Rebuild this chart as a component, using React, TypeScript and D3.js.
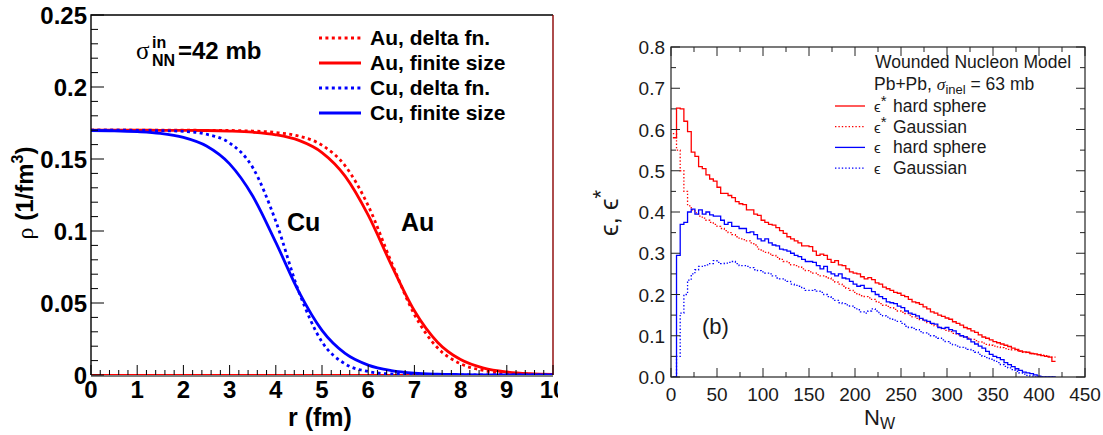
import React, { useEffect, useRef } from "react";
import * as d3 from "d3";

// ---- left panel: nuclear density profiles ----
const rGrid = [0, 0.5, 1, 1.5, 2, 2.5, 3, 3.5, 4, 4.5, 5, 5.5, 6, 6.5, 7, 7.5, 8, 8.5, 9, 9.5, 10];
const auDelta = [0.17, 0.17, 0.17, 0.17, 0.17, 0.1699, 0.1698, 0.1694, 0.1684, 0.1659, 0.1596, 0.1453, 0.1176, 0.0785, 0.042, 0.0189, 0.0078, 0.0031, 0.0012, 0.0005, 0.0002];
const auFinite = [0.17, 0.17, 0.17, 0.1699, 0.1699, 0.1698, 0.1694, 0.1686, 0.1668, 0.1629, 0.1545, 0.1381, 0.111, 0.0765, 0.0446, 0.0228, 0.0107, 0.0048, 0.0021, 0.0009, 0.0004];
const cuDelta = [0.17, 0.17, 0.1699, 0.1697, 0.1692, 0.1672, 0.1612, 0.1441, 0.1068, 0.0577, 0.023, 0.0077, 0.0024, 0.0007, 0.0002, 0.0001, 0, 0, 0, 0, 0];
const cuFinite = [0.1698, 0.1696, 0.169, 0.1678, 0.165, 0.159, 0.1466, 0.1243, 0.0921, 0.0577, 0.031, 0.015, 0.0069, 0.0031, 0.0013, 0.0006, 0.0003, 0.0001, 0.0001, 0, 0];

const rTicks = [0, 1, 2, 3, 4, 5, 6, 7, 8, 9, 10];
const rhoTicks = [0, 0.05, 0.1, 0.15, 0.2, 0.25];
const rhoTickLabels = ["0", "0.05", "0.1", "0.15", "0.2", "0.25"];

const leftLegend = [
  { label: "Au, delta fn.", color: "#ff0000", dotted: true },
  { label: "Au, finite size", color: "#ff0000", dotted: false },
  { label: "Cu, delta fn.", color: "#0000ff", dotted: true },
  { label: "Cu, finite size", color: "#0000ff", dotted: false },
];

// ---- right panel: eccentricity histograms, bins of 4 starting at N_W = 2 ----
const binStart = 2;
const binWidth = 4;
const epsStarHard = [
  0.58, 0.652, 0.65, 0.62, 0.595, 0.545, 0.535, 0.51, 0.505, 0.49, 0.48, 0.475, 0.46, 0.445, 0.445, 0.44,
  0.435, 0.425, 0.42, 0.418, 0.405, 0.405, 0.395, 0.392, 0.38, 0.375, 0.37, 0.368, 0.362, 0.355, 0.348, 0.34,
  0.335, 0.33, 0.325, 0.318, 0.318, 0.316, 0.305, 0.295, 0.298, 0.295, 0.285, 0.278, 0.282, 0.272, 0.27, 0.262,
  0.255, 0.252, 0.25, 0.243, 0.238, 0.241, 0.236, 0.228, 0.225, 0.218, 0.214, 0.21, 0.205, 0.203, 0.198, 0.195,
  0.188, 0.182, 0.18, 0.176, 0.17, 0.165, 0.158, 0.155, 0.15, 0.147, 0.143, 0.14, 0.134, 0.13, 0.126, 0.12,
  0.117, 0.112, 0.108, 0.102, 0.097, 0.094, 0.09, 0.086, 0.083, 0.08, 0.077, 0.074, 0.07, 0.067, 0.063, 0.061,
  0.06, 0.057, 0.056, 0.054, 0.052, 0.05, 0.048, 0.038,
];
const epsStarGauss = [
  0.59, 0.55, 0.5, 0.45, 0.415, 0.405, 0.398, 0.39, 0.385, 0.38, 0.375, 0.37, 0.365, 0.36, 0.355, 0.35,
  0.345, 0.34, 0.335, 0.333, 0.33, 0.325, 0.32, 0.31, 0.305, 0.302, 0.298, 0.295, 0.29, 0.285, 0.28, 0.277,
  0.272, 0.27, 0.267, 0.262, 0.258, 0.255, 0.252, 0.248, 0.245, 0.243, 0.24, 0.235, 0.23, 0.225, 0.22, 0.215,
  0.21, 0.205, 0.2, 0.197, 0.195, 0.192, 0.188, 0.183, 0.178, 0.174, 0.171, 0.168, 0.164, 0.16, 0.157, 0.154,
  0.15, 0.146, 0.142, 0.139, 0.136, 0.132, 0.128, 0.124, 0.121, 0.117, 0.113, 0.11, 0.106, 0.103, 0.1, 0.097,
  0.094, 0.091, 0.088, 0.085, 0.082, 0.079, 0.077, 0.075, 0.073, 0.071, 0.069, 0.067, 0.066, 0.064, 0.062, 0.06,
  0.059, 0.057, 0.056, 0.055, 0.053, 0.052, 0.05, 0.048,
];
const epsHard = [
  0, 0.295, 0.37, 0.375, 0.4, 0.407, 0.395, 0.405, 0.395, 0.4, 0.393, 0.39, 0.39, 0.38, 0.37, 0.375,
  0.365, 0.365, 0.36, 0.36, 0.35, 0.352, 0.345, 0.335, 0.33, 0.335, 0.325, 0.32, 0.318, 0.31, 0.308, 0.305,
  0.3, 0.295, 0.292, 0.285, 0.28, 0.28, 0.278, 0.27, 0.262, 0.268, 0.255, 0.25, 0.245, 0.25, 0.24, 0.238,
  0.232, 0.225, 0.22, 0.222, 0.215, 0.215, 0.207, 0.2, 0.195, 0.19, 0.182, 0.18, 0.178, 0.172, 0.168, 0.16,
  0.155, 0.152, 0.148, 0.142, 0.138, 0.135, 0.13, 0.128, 0.12, 0.118, 0.12, 0.115, 0.112, 0.105, 0.1, 0.097,
  0.092, 0.085, 0.08, 0.075, 0.07, 0.062, 0.055, 0.05, 0.047, 0.042, 0.035, 0.03, 0.025, 0.02, 0.016, 0.012,
  0.01, 0.008, 0.005, 0.002, 0, 0, 0, 0,
];
const epsGauss = [
  0, 0.05, 0.155, 0.2, 0.235, 0.25, 0.26, 0.268, 0.27, 0.272, 0.275, 0.282, 0.278, 0.275, 0.276, 0.278,
  0.28, 0.275, 0.27, 0.27, 0.268, 0.265, 0.26, 0.258, 0.255, 0.252, 0.25, 0.245, 0.24, 0.238, 0.235, 0.232,
  0.225, 0.222, 0.22, 0.215, 0.21, 0.21, 0.212, 0.208, 0.205, 0.2, 0.195, 0.19, 0.186, 0.18, 0.178, 0.175,
  0.172, 0.168, 0.163, 0.158, 0.155, 0.16, 0.165, 0.16, 0.152, 0.148, 0.145, 0.14, 0.138, 0.135, 0.13, 0.123,
  0.12, 0.118, 0.115, 0.11, 0.107, 0.104, 0.1, 0.097, 0.094, 0.09, 0.086, 0.082, 0.078, 0.075, 0.072, 0.07,
  0.067, 0.064, 0.06, 0.055, 0.05, 0.047, 0.043, 0.04, 0.035, 0.03, 0.026, 0.022, 0.018, 0.014, 0.01, 0.007,
  0.004, 0.002, 0, 0, 0, 0, 0, 0,
];

const nTicks = [0, 50, 100, 150, 200, 250, 300, 350, 400, 450];
const epsTicks = [0, 0.1, 0.2, 0.3, 0.4, 0.5, 0.6, 0.7, 0.8];

const rightLegend = [
  { sym: "ϵ", star: true, label: "hard sphere", color: "#ff0000", dotted: false },
  { sym: "ϵ", star: true, label: "Gaussian", color: "#ff0000", dotted: true },
  { sym: "ϵ", star: false, label: "hard sphere", color: "#0000ff", dotted: false },
  { sym: "ϵ", star: false, label: "Gaussian", color: "#0000ff", dotted: true },
];

const BOLD = "'Liberation Sans', Arial, Helvetica, sans-serif";

export default function App() {
  const svgRef = useRef<SVGSVGElement>(null);

  useEffect(() => {
    const svg = d3.select(svgRef.current);
    svg.selectAll("*").remove();

    // ================= LEFT PANEL =================
    const xL = d3.scaleLinear().domain([0, 10]).range([91, 553]);
    const yL = d3.scaleLinear().domain([0, 0.25]).range([375, 15]);

    svg.append("clipPath").attr("id", "leftCut")
      .append("rect").attr("x", 0).attr("y", 0).attr("width", 558).attr("height", 435);
    svg.append("clipPath").attr("id", "leftFrame")
      .append("rect").attr("x", xL(0)).attr("y", yL(0.25)).attr("width", xL(10) - xL(0)).attr("height", yL(0) - yL(0.25));

    const L = svg.append("g").attr("clip-path", "url(#leftCut)").style("font-family", BOLD);

    // curves
    const curves = [
      { v: auDelta, color: "#ff0000", dotted: true },
      { v: auFinite, color: "#ff0000", dotted: false },
      { v: cuDelta, color: "#0000ff", dotted: true },
      { v: cuFinite, color: "#0000ff", dotted: false },
    ];
    const lineL = d3.line<number>()
      .x((_, i) => xL(rGrid[i]))
      .y((d) => yL(d))
      .curve(d3.curveMonotoneX);

    const plot = L.append("g").attr("clip-path", "url(#leftFrame)");
    plot.append("line")
      .attr("x1", xL(0)).attr("x2", xL(10)).attr("y1", yL(0)).attr("y2", yL(0))
      .attr("stroke", "#ff0000").attr("stroke-width", 2);
    curves.forEach((c) => {
      plot.append("path")
        .attr("d", lineL(c.v))
        .attr("fill", "none")
        .attr("stroke", c.color)
        .attr("stroke-width", 2.8)
        .attr("stroke-dasharray", c.dotted ? "3,3.4" : null);
    });

    // frame
    L.append("path")
      .attr("d", `M${xL(0)},${yL(0)}V${yL(0.25)}H${xL(10)}`)
      .attr("fill", "none").attr("stroke", "#000").attr("stroke-width", 1.4);
    L.append("line")
      .attr("x1", xL(10)).attr("x2", xL(10)).attr("y1", yL(0.25)).attr("y2", yL(0))
      .attr("stroke", "#8b0000").attr("stroke-width", 1.4);
    L.append("line")
      .attr("x1", xL(0)).attr("x2", xL(10)).attr("y1", yL(0) + 1).attr("y2", yL(0) + 1)
      .attr("stroke", "#000").attr("stroke-width", 1);

    // y ticks
    d3.range(0, 26).forEach((k) => {
      const v = k * 0.01;
      const major = k % 5 === 0;
      L.append("line")
        .attr("x1", xL(0)).attr("x2", xL(0) + (major ? 13 : 7))
        .attr("y1", yL(v)).attr("y2", yL(v))
        .attr("stroke", "#000").attr("stroke-width", 1);
    });
    rhoTicks.forEach((v, i) => {
      L.append("text")
        .attr("x", xL(0) - 4).attr("y", yL(v) + 9)
        .attr("text-anchor", "end")
        .style("font-size", "24px").style("font-weight", "bold")
        .text(rhoTickLabels[i]);
    });

    // x ticks
    d3.range(0, 51).forEach((k) => {
      const v = k * 0.2;
      const major = k % 5 === 0;
      L.append("line")
        .attr("x1", xL(v)).attr("x2", xL(v))
        .attr("y1", yL(0)).attr("y2", yL(0) - (major ? 10 : 5))
        .attr("stroke", "#000").attr("stroke-width", 1);
    });
    rTicks.forEach((v) => {
      L.append("text")
        .attr("x", xL(v)).attr("y", 398)
        .attr("text-anchor", "middle")
        .style("font-size", "24px").style("font-weight", "bold")
        .text(String(v));
    });

    // axis titles
    L.append("text")
      .attr("x", 320).attr("y", 426)
      .attr("text-anchor", "middle")
      .style("font-size", "25px").style("font-weight", "bold")
      .text("r (fm)");

    const yt = L.append("text")
      .attr("transform", "translate(33,193) rotate(-90)")
      .attr("text-anchor", "middle")
      .style("font-size", "24px").style("font-weight", "bold");
    yt.append("tspan").style("font-family", "'Liberation Serif', serif").style("font-weight", "normal").text("ρ");
    yt.append("tspan").text(" (1/fm");
    yt.append("tspan").attr("dy", -10).style("font-size", "16px").text("3");
    yt.append("tspan").attr("dy", 10).text(")");

    // sigma annotation
    L.append("text").attr("x", 136).attr("y", 59)
      .style("font-family", "'Liberation Serif', serif").style("font-size", "25px").text("σ");
    L.append("text").attr("x", 152).attr("y", 48)
      .style("font-size", "16px").style("font-weight", "bold").text("in");
    L.append("text").attr("x", 152).attr("y", 66)
      .style("font-size", "16px").style("font-weight", "bold").text("NN");
    L.append("text").attr("x", 178).attr("y", 59)
      .style("font-size", "24px").style("font-weight", "bold").text("=42 mb");

    L.append("text").attr("x", 287).attr("y", 231)
      .style("font-size", "25px").style("font-weight", "bold").text("Cu");
    L.append("text").attr("x", 401).attr("y", 231)
      .style("font-size", "25px").style("font-weight", "bold").text("Au");

    // legend
    leftLegend.forEach((d, i) => {
      const y = 38 + i * 25;
      L.append("line")
        .attr("x1", 319).attr("x2", 361).attr("y1", y).attr("y2", y)
        .attr("stroke", d.color).attr("stroke-width", 2.8)
        .attr("stroke-dasharray", d.dotted ? "3,3.4" : null);
      L.append("text")
        .attr("x", 370).attr("y", y + 7)
        .style("font-size", "21px").style("font-weight", "bold")
        .text(d.label);
    });

    // ================= RIGHT PANEL =================
    const xR = d3.scaleLinear().domain([0, 450]).range([671, 1085]);
    const yR = d3.scaleLinear().domain([0, 0.8]).range([377, 47]);
    const R = svg.append("g").style("font-family", BOLD).style("fill", "#1a1a1a");

    svg.append("clipPath").attr("id", "rightFrame")
      .append("rect").attr("x", xR(0)).attr("y", yR(0.8)).attr("width", xR(450) - xR(0)).attr("height", yR(0) - yR(0.8));

    const hists = [
      { v: epsStarHard, color: "#ff0000", dotted: false },
      { v: epsStarGauss, color: "#ff0000", dotted: true },
      { v: epsHard, color: "#0000ff", dotted: false },
      { v: epsGauss, color: "#0000ff", dotted: true },
    ];
    const lineR = d3.line<number>()
      .x((_, i) => xR(binStart + i * binWidth))
      .y((d) => yR(d))
      .curve(d3.curveStepAfter);
    const hg = R.append("g").attr("clip-path", "url(#rightFrame)");
    hists.forEach((h) => {
      const pts = [...h.v, h.v[h.v.length - 1]];
      hg.append("path")
        .attr("d", lineR(pts))
        .attr("fill", "none")
        .attr("stroke", h.color)
        .attr("stroke-width", 1.3)
        .attr("stroke-dasharray", h.dotted ? "1.4,2" : null);
    });

    // frame
    R.append("rect")
      .attr("x", xR(0)).attr("y", yR(0.8))
      .attr("width", xR(450) - xR(0)).attr("height", yR(0) - yR(0.8))
      .attr("fill", "none").attr("stroke", "#222").attr("stroke-width", 1.2);

    // ticks on all four sides
    d3.range(0, 17).forEach((k) => {
      const v = k * 0.05;
      const len = k % 2 === 0 ? 9 : 5;
      R.append("line").attr("x1", xR(0)).attr("x2", xR(0) + len).attr("y1", yR(v)).attr("y2", yR(v))
        .attr("stroke", "#222").attr("stroke-width", 1);
      R.append("line").attr("x1", xR(450)).attr("x2", xR(450) - len).attr("y1", yR(v)).attr("y2", yR(v))
        .attr("stroke", "#222").attr("stroke-width", 1);
    });
    d3.range(0, 19).forEach((k) => {
      const v = k * 25;
      const len = k % 2 === 0 ? 9 : 5;
      R.append("line").attr("x1", xR(v)).attr("x2", xR(v)).attr("y1", yR(0)).attr("y2", yR(0) - len)
        .attr("stroke", "#222").attr("stroke-width", 1);
      R.append("line").attr("x1", xR(v)).attr("x2", xR(v)).attr("y1", yR(0.8)).attr("y2", yR(0.8) + len)
        .attr("stroke", "#222").attr("stroke-width", 1);
    });

    epsTicks.forEach((v) => {
      R.append("text")
        .attr("x", xR(0) - 6).attr("y", yR(v) + 7)
        .attr("text-anchor", "end")
        .style("font-size", "19px")
        .text(v.toFixed(1));
    });
    nTicks.forEach((v) => {
      R.append("text")
        .attr("x", xR(v)).attr("y", 401)
        .attr("text-anchor", "middle")
        .style("font-size", "19px")
        .text(String(v));
    });

    // axis titles
    const nt = R.append("text").attr("x", 864).attr("y", 425).style("font-size", "22px");
    nt.append("tspan").text("N");
    nt.append("tspan").attr("dy", 4).style("font-size", "16px").text("W");

    const et = R.append("text")
      .attr("transform", "translate(618,213) rotate(-90)")
      .attr("text-anchor", "middle")
      .style("font-size", "26px");
    et.append("tspan").text("ϵ, ϵ");
    et.append("tspan").attr("dy", -10).style("font-size", "22px").text("*");

    R.append("text").attr("x", 702).attr("y", 334).style("font-size", "22px").text("(b)");

    // legend
    R.append("text").attr("x", 875).attr("y", 68).style("font-size", "17.5px").text("Wounded Nucleon Model");
    const pb = R.append("text").attr("x", 874).attr("y", 90).style("font-size", "17.5px");
    pb.append("tspan").text("Pb+Pb, ");
    pb.append("tspan").style("font-style", "italic").style("font-family", "'Liberation Serif', serif").text("σ");
    pb.append("tspan").attr("dy", 4).style("font-size", "13px").text("inel");
    pb.append("tspan").attr("dy", -4).text(" = 63 mb");

    rightLegend.forEach((d, i) => {
      const y = 106 + i * 20.7;
      R.append("line")
        .attr("x1", 835).attr("x2", 865).attr("y1", y).attr("y2", y)
        .attr("stroke", d.color).attr("stroke-width", 1.3)
        .attr("stroke-dasharray", d.dotted ? "1.4,2" : null);
      const t = R.append("text").attr("x", 874).attr("y", y + 6).style("font-size", "17.5px");
      t.append("tspan").style("font-size", "15px").text(d.sym);
      if (d.star) t.append("tspan").attr("dy", -6).style("font-size", "15px").text("*");
      t.append("tspan").attr("x", 893).attr("y", y + 6).text(d.label);
    });
  }, []);

  return (
    <svg
      ref={svgRef}
      width={1103}
      height={435}
      style={{ position: "absolute", left: 0, top: 0, background: "#fff" }}
    ></svg>
  );
}
